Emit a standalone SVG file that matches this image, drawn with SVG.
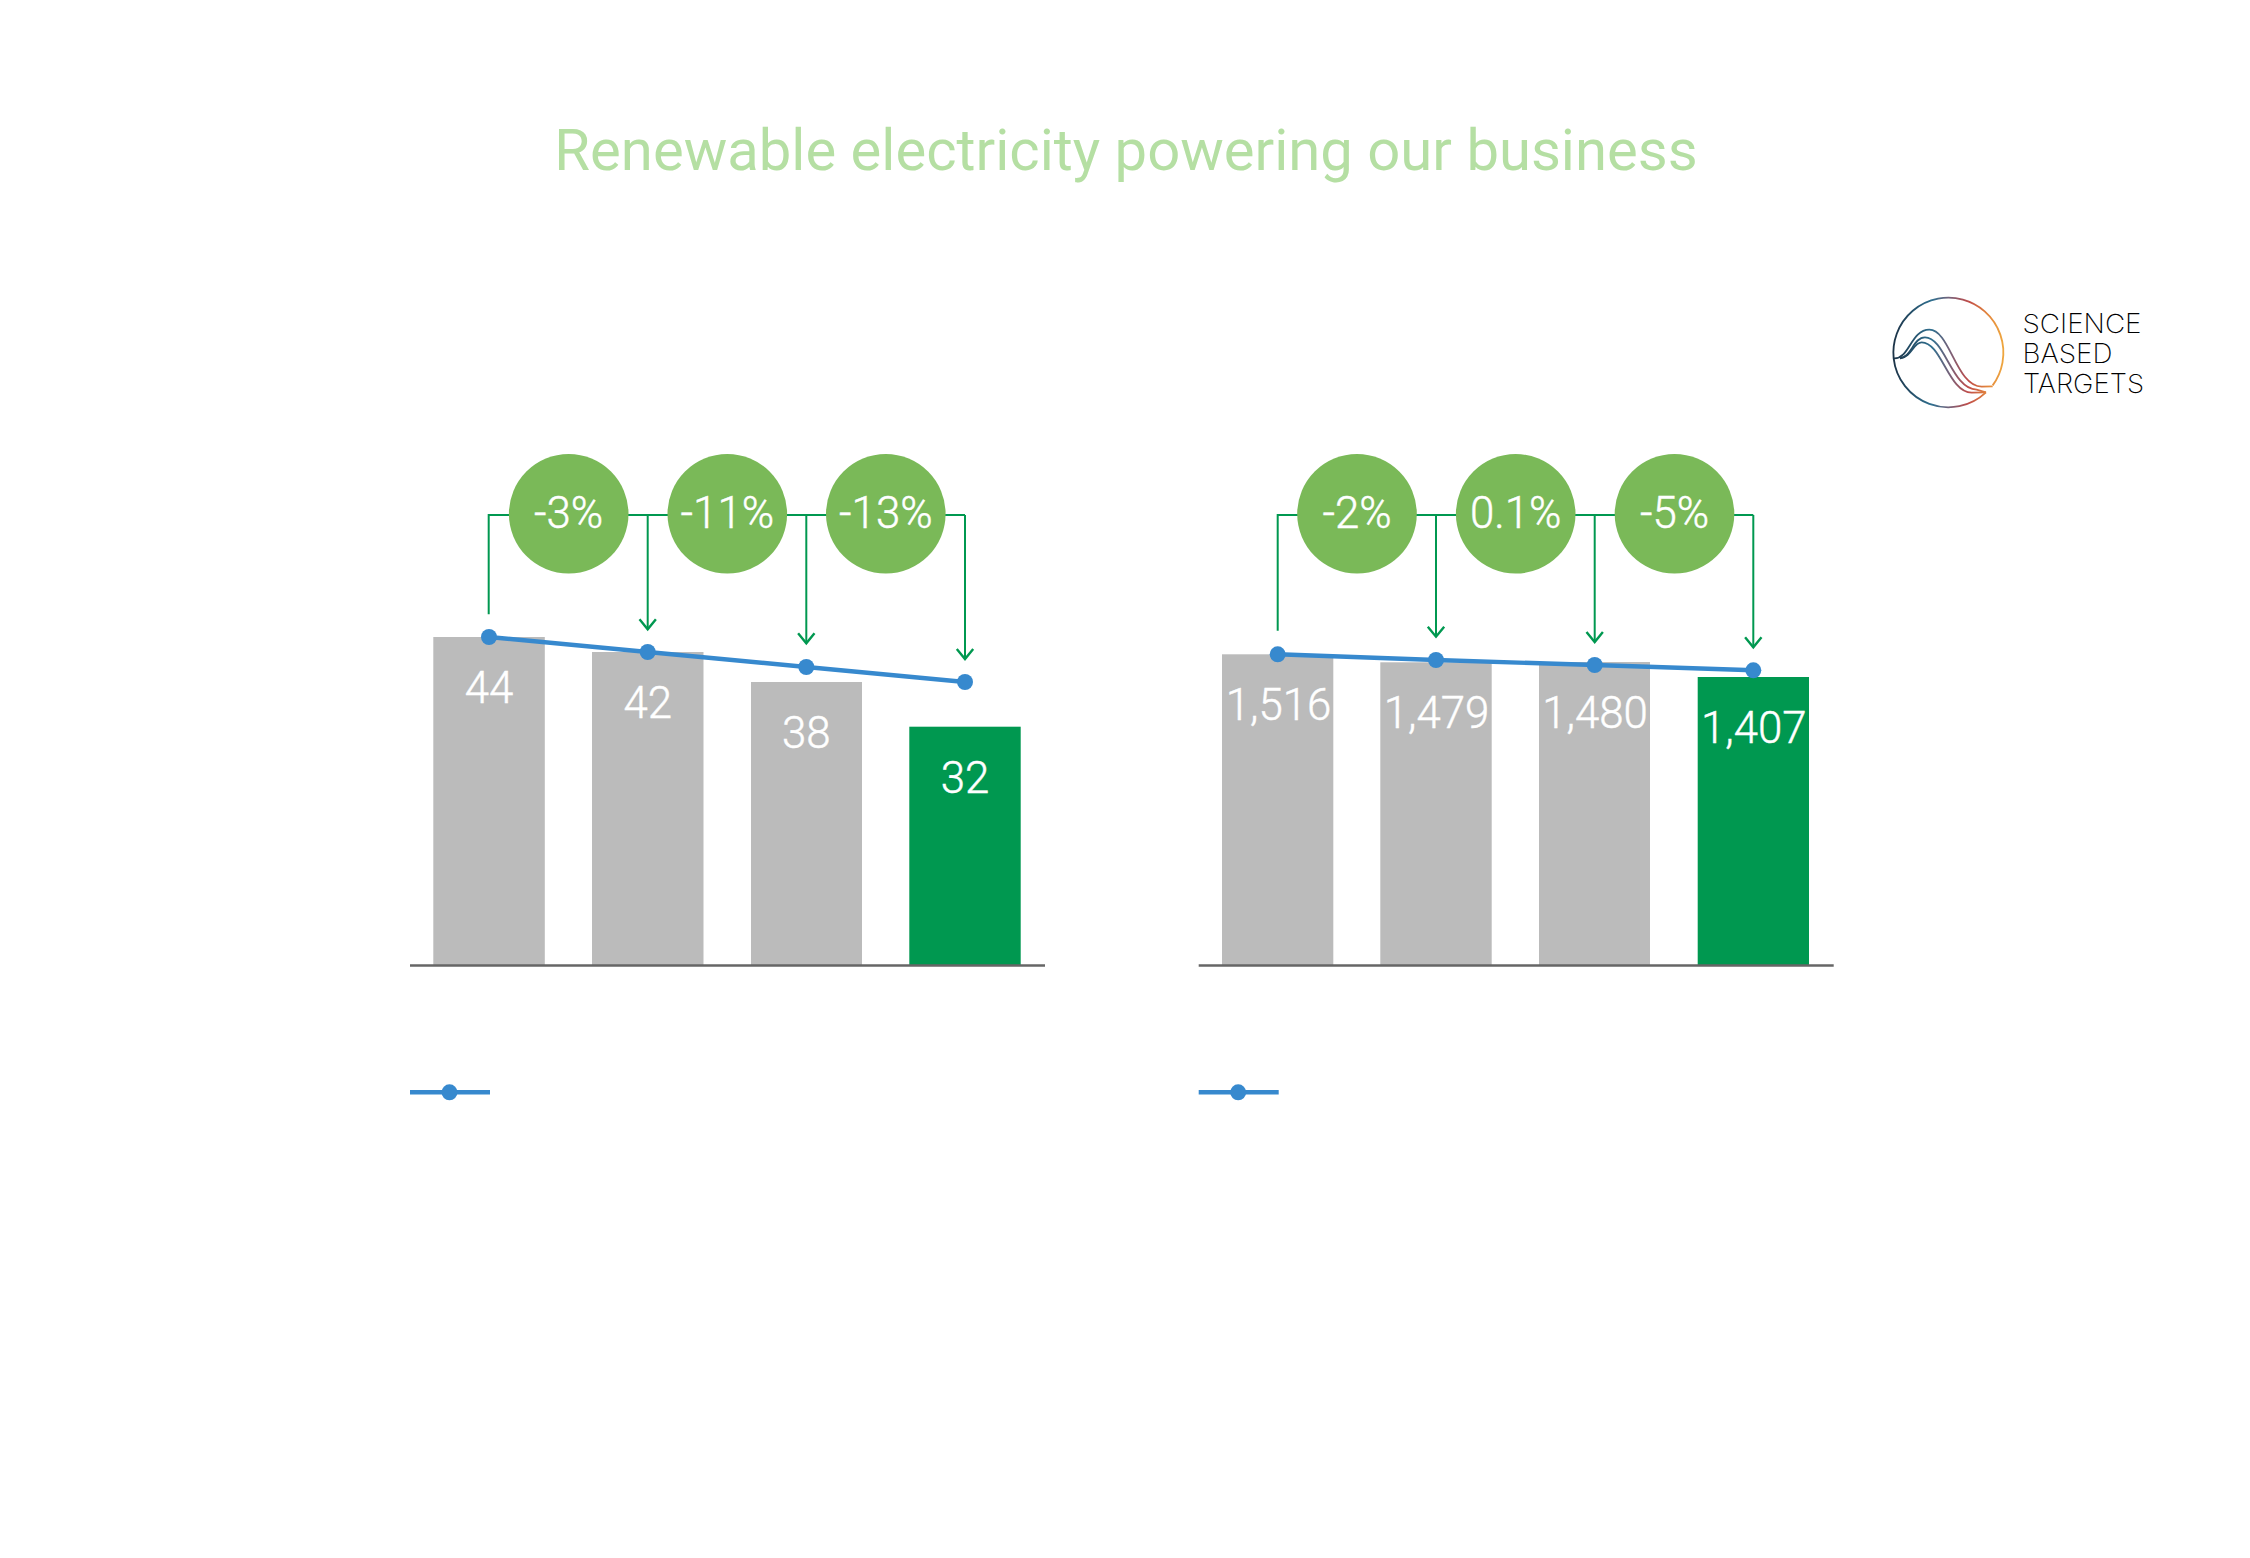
<svg xmlns="http://www.w3.org/2000/svg" width="2250" height="1558" viewBox="0 0 2250 1558">
<style>
.bg{fill:#fff}
.grey{fill:#bbbbbb}
.green{fill:#009850}
.pct{fill:#7ab958}
.val{font:300 43.8px Roboto,"Liberation Sans",sans-serif;fill:#fff;stroke:#fff;stroke-width:.45;text-anchor:middle}
.title{font:400 58px Roboto,"Liberation Sans",sans-serif;fill:#b5dfa3;text-anchor:middle}
.conn{fill:none;stroke:#009850;stroke-width:2}
.arr{fill:none;stroke:#009850;stroke-width:2;marker-end:url(#chev)}
.axis{stroke:#666;stroke-width:2.4;fill:none}
.trend{stroke:#3789ce;stroke-width:4.4;fill:none}
.dot{fill:#3789ce}
.sbt{font:200 26.5px Inter,"Liberation Sans",sans-serif;fill:#000}
.lg{fill:none;stroke:url(#lgrad);stroke-width:5.5}
</style>
<defs>
<marker id="chev" markerUnits="userSpaceOnUse" markerWidth="20" markerHeight="20" refX="14" refY="10" orient="auto" overflow="visible">
<path d="M4,1.8 L14,10 L4,18.2" fill="none" stroke="#009850" stroke-width="2.4"/>
</marker>
<linearGradient id="lgrad" gradientUnits="userSpaceOnUse" x1="130" y1="0" x2="460" y2="0">
<stop offset="0" stop-color="#1c3347"/>
<stop offset="0.35" stop-color="#2f6f8f"/>
<stop offset="0.52" stop-color="#7a6178"/>
<stop offset="0.68" stop-color="#bf4c4a"/>
<stop offset="0.85" stop-color="#e2843c"/>
<stop offset="1" stop-color="#eea63f"/>
</linearGradient>
</defs>
<rect class="bg" x="0" y="0" width="2250" height="1558"/>
<text id="title" class="title" x="1126" y="170">Renewable electricity powering our business</text>

<g id="chart-left-bars">
<g id="bar-l1"><rect class="grey" x="433.3" y="637" width="111.5" height="328"/><text class="val" x="489" y="703">44</text></g>
<g id="bar-l2"><rect class="grey" x="592" y="652" width="111.5" height="313"/><text class="val" x="647.7" y="718">42</text></g>
<g id="bar-l3"><rect class="grey" x="751" y="682" width="111" height="283"/><text class="val" x="806.3" y="748">38</text></g>
<g id="bar-l4"><rect class="green" x="909.3" y="726.7" width="111.4" height="238.3"/><text class="val" x="965" y="792.7">32</text></g>
</g>
<g id="chart-right-bars">
<g id="bar-r1"><rect class="grey" x="1222" y="654.3" width="111.3" height="310.7"/><text class="val" x="1278.5" y="720">1,516</text></g>
<g id="bar-r2"><rect class="grey" x="1380.3" y="662.3" width="111.4" height="302.7"/><text class="val" x="1436.5" y="728">1,479</text></g>
<g id="bar-r3"><rect class="grey" x="1539" y="662" width="111" height="303"/><text class="val" x="1595" y="727.5">1,480</text></g>
<g id="bar-r4"><rect class="green" x="1697.7" y="677" width="111.3" height="288"/><text class="val" x="1753.8" y="743">1,407</text></g>
</g>

<g id="connectors">
<path class="conn" d="M488.7,614.3 V515 H965"/>
<path class="arr" d="M965,515 V659"/>
<path class="arr" d="M647.7,515 V629.3"/>
<path class="arr" d="M806.3,515 V643.3"/>
<path class="conn" d="M1277.7,630.7 V515 H1753.3"/>
<path class="arr" d="M1753.3,515 V647.3"/>
<path class="arr" d="M1436,515 V636.7"/>
<path class="arr" d="M1594.7,515 V642"/>
<path class="axis" d="M410,965.5 H1045"/>
<path class="axis" d="M1198.7,965.5 H1833.7"/>
<path class="trend" d="M489,637 L647.7,652 L806.3,667 L965,682"/>
<path class="trend" d="M1277.7,654.3 L1436,660 L1594.7,665 L1753.3,670.3"/>
<path class="trend" d="M410,1092.3 H490"/>
<path class="trend" d="M1198.7,1092.3 H1278.7"/>
</g>

<g id="trend-left-dots">
<circle class="dot" cx="489" cy="637" r="8"/><circle class="dot" cx="647.7" cy="652" r="8"/><circle class="dot" cx="806.3" cy="667" r="8"/><circle class="dot" cx="965" cy="682" r="8"/>
</g>
<g id="trend-right-dots">
<circle class="dot" cx="1277.7" cy="654.3" r="8"/><circle class="dot" cx="1436" cy="660" r="8"/><circle class="dot" cx="1594.7" cy="665" r="8"/><circle class="dot" cx="1753.3" cy="670.3" r="8"/>
</g>
<g id="legend-left"><circle class="dot" cx="449.5" cy="1092.3" r="8"/></g>
<g id="legend-right"><circle class="dot" cx="1238.2" cy="1092.3" r="8"/></g>

<g id="pct-l1"><circle class="pct" cx="568.7" cy="513.8" r="59.8"/><text class="val" x="568.5" y="527.5">-3%</text></g>
<g id="pct-l2"><circle class="pct" cx="727.3" cy="513.8" r="59.8"/><text class="val" x="727.3" y="527.5">-11%</text></g>
<g id="pct-l3"><circle class="pct" cx="885.8" cy="513.8" r="59.8"/><text class="val" x="885.8" y="527.5">-13%</text></g>
<g id="pct-r1"><circle class="pct" cx="1357" cy="513.8" r="59.8"/><text class="val" x="1357" y="527.5">-2%</text></g>
<g id="pct-r2"><circle class="pct" cx="1515.7" cy="513.8" r="59.8"/><text class="val" x="1515.7" y="527.5">0.1%</text></g>
<g id="pct-r3"><circle class="pct" cx="1674.5" cy="513.8" r="59.8"/><text class="val" x="1674.5" y="527.5">-5%</text></g>

<g id="sbt-logo">
<g transform="translate(1850,269) scale(0.33333)">
<path class="lg" d="M428,349 A165,165 0 1 0 131,268 A165,165 0 0 0 408,370"/>
<path class="lg" d="M131,268 C178,272 182,182 238,182 C300,182 318,352 395,353 L428,352"/>
<path class="lg" d="M150,268 C185,264 190,205 225,205 C285,205 305,360 380,362 L408,370"/>
<path class="lg" d="M150,268 C185,264 190,220 215,220 C275,220 295,370 365,371 L408,370"/>
</g>
<text class="sbt" x="2022.5" y="332.7" textLength="119" lengthAdjust="spacingAndGlyphs">SCIENCE</text>
<text class="sbt" x="2022.5" y="363.3" textLength="90" lengthAdjust="spacingAndGlyphs">BASED</text>
<text class="sbt" x="2023" y="393.3" textLength="121" lengthAdjust="spacingAndGlyphs">TARGETS</text>
</g>
</svg>
